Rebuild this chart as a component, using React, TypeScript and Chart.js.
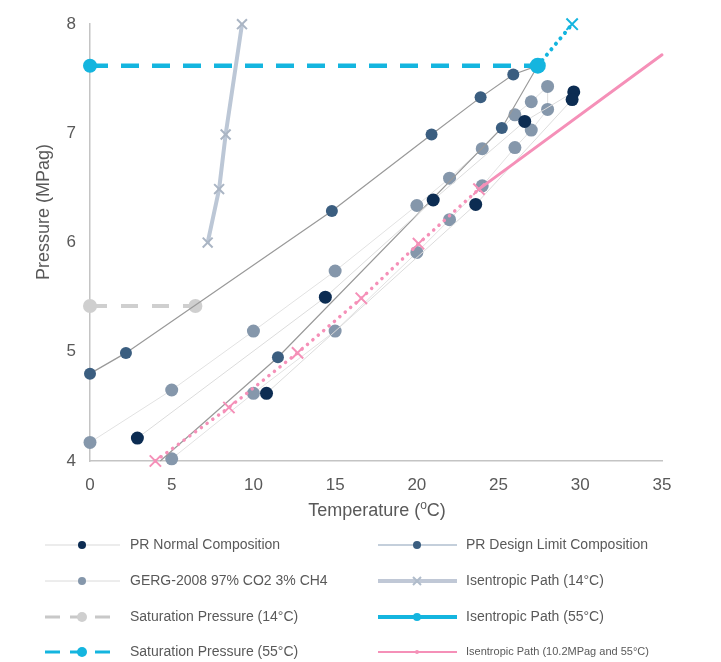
import React, { useEffect, useRef } from "react";
import { Chart, registerables } from "chart.js";

Chart.register(...registerables);

// ---------- data ----------
const xMin = 0;
const xMax = 35;
const xStep = 5;
const yMin = 4;
const yMax = 8;
const yStep = 1;

const prNormalT = [2.9, 14.4, 21.0, 26.6, 29.6, 29.5, 23.6, 10.8];
const prNormalP = [4.21, 5.5, 6.39, 7.11, 7.38, 7.31, 6.35, 4.62];

const designT = [0, 2.2, 14.8, 20.9, 23.9, 25.9, 27.4, 25.2, 11.5, 4.3];
const designP = [4.8, 4.99, 6.29, 6.99, 7.33, 7.54, 7.62, 7.05, 4.95, 4.0];

const gergT = [0, 5, 10, 15, 20, 22, 24, 26, 27, 28, 28, 27, 26, 24, 22, 20, 15, 10, 5];
const gergP = [4.17, 4.65, 5.19, 5.74, 6.34, 6.59, 6.86, 7.17, 7.29, 7.43, 7.22, 7.03, 6.87, 6.52, 6.21, 5.91, 5.19, 4.62, 4.02];

const sat14T = [0, 6.45];
const sat14P = [5.42, 5.42];

const iso14T = [7.2, 7.9, 8.3, 9.3];
const iso14P = [6.0, 6.49, 6.99, 8.0];

const sat55T = [0, 27.4];
const sat55P = [7.62, 7.62];

const iso55T = [27.4, 29.5];
const iso55P = [7.62, 8.0];

const iso102T = [4.0, 8.5, 12.7, 16.6, 20.1, 23.8, 35];
const iso102P = [4.0, 4.49, 4.99, 5.49, 5.99, 6.49, 7.72];

const labels = {
  prNormal: "PR Normal Composition",
  design: "PR Design Limit Composition",
  gerg: "GERG-2008 97% CO2 3% CH4",
  iso14: "Isentropic Path (14°C)",
  sat14: "Saturation Pressure (14°C)",
  iso55: "Isentropic Path (55°C)",
  sat55: "Saturation Pressure (55°C)",
  iso102: "Isentropic Path (10.2MPag and 55°C)",
};

const xTitle = ["Temperature (", "o", "C)"];
const yTitle = "Pressure (MPag)";

// ---------- styles ----------
const C = {
  navy: "#0c2c52",
  design: "#3b5e80",
  gerg: "#8597ab",
  cyan: "#14b5df",
  sat14: "#cfcfcf",
  iso14: "#bcc7d6",
  iso14Mark: "#aab5c4",
  pink: "#f590b8",
  text: "#595959",
  axis: "#c4c4c4",
};
const FONT = '"Liberation Sans", Arial, sans-serif';

const pts = (xs: number[], ys: number[]) => xs.map((x, i) => ({ x, y: ys[i] }));

function drawMarker(ctx: CanvasRenderingContext2D, style: string, x: number, y: number, r: number, color: string) {
  ctx.save();
  if (style === "circle") {
    ctx.fillStyle = color;
    ctx.beginPath();
    ctx.arc(x, y, r, 0, Math.PI * 2);
    ctx.fill();
  } else if (style === "crossRot") {
    ctx.strokeStyle = color;
    ctx.lineWidth = 2;
    ctx.beginPath();
    ctx.moveTo(x - r, y - r);
    ctx.lineTo(x + r, y + r);
    ctx.moveTo(x + r, y - r);
    ctx.lineTo(x - r, y + r);
    ctx.stroke();
  }
  ctx.restore();
}

type LegendItem = {
  label: string;
  col: number;
  row: number;
  line: string;
  lw: number;
  dash: number[];
  marker: string;
  mColor: string;
  mr: number;
  fontSize: number;
};

const legendItems: LegendItem[] = [
  { label: labels.prNormal, col: 0, row: 0, line: "#d9d9d9", lw: 1, dash: [], marker: "circle", mColor: C.navy, mr: 4, fontSize: 14 },
  { label: labels.gerg, col: 0, row: 1, line: "#dadada", lw: 1, dash: [], marker: "circle", mColor: C.gerg, mr: 4, fontSize: 14 },
  { label: labels.sat14, col: 0, row: 2, line: "#c8c8c8", lw: 3, dash: [15, 10], marker: "circle", mColor: C.sat14, mr: 5, fontSize: 14 },
  { label: labels.sat55, col: 0, row: 3, line: C.cyan, lw: 3, dash: [15, 10], marker: "circle", mColor: C.cyan, mr: 5, fontSize: 14 },
  { label: labels.design, col: 1, row: 0, line: "#8aa0b8", lw: 1.2, dash: [], marker: "circle", mColor: C.design, mr: 4, fontSize: 14 },
  { label: labels.iso14, col: 1, row: 1, line: "#c0c8d6", lw: 4, dash: [], marker: "crossRot", mColor: "#b0bccb", mr: 4, fontSize: 14 },
  { label: labels.iso55, col: 1, row: 2, line: C.cyan, lw: 4, dash: [], marker: "circle", mColor: C.cyan, mr: 4, fontSize: 14 },
  { label: labels.iso102, col: 1, row: 3, line: C.pink, lw: 2, dash: [], marker: "circle", mColor: C.pink, mr: 2, fontSize: 11 },
];

const legendRowsY = [545, 581, 617, 652];
const legendCols = [
  { x0: 45, x1: 120, mx: 82, tx: 130 },
  { x0: 378, x1: 457, mx: 417, tx: 466 },
];

const overlayPlugin = {
  id: "overlay",
  afterDraw(chart: any) {
    const ctx: CanvasRenderingContext2D = chart.ctx;
    const area = chart.chartArea;
    ctx.save();
    // legend
    legendItems.forEach((it) => {
      const col = legendCols[it.col];
      const y = legendRowsY[it.row];
      ctx.save();
      ctx.strokeStyle = it.line;
      ctx.lineWidth = it.lw;
      ctx.setLineDash(it.dash);
      ctx.beginPath();
      ctx.moveTo(col.x0, y);
      ctx.lineTo(col.x1, y);
      ctx.stroke();
      ctx.restore();
      drawMarker(ctx, it.marker, col.mx, y, it.mr, it.mColor);
      ctx.fillStyle = C.text;
      ctx.font = `${it.fontSize}px ${FONT}`;
      ctx.textAlign = "left";
      ctx.textBaseline = "middle";
      ctx.fillText(it.label, col.tx, y);
    });

    // x title with raised "o"
    const cx = (area.left + area.right) / 2 + 1;
    const ty = 511;
    ctx.fillStyle = C.text;
    ctx.textBaseline = "middle";
    ctx.textAlign = "left";
    ctx.font = `18px ${FONT}`;
    const w1 = ctx.measureText(xTitle[0]).width;
    const w3 = ctx.measureText(xTitle[2]).width;
    ctx.font = `12px ${FONT}`;
    const w2 = ctx.measureText(xTitle[1]).width;
    const sx = cx - (w1 + w2 + w3) / 2;
    ctx.font = `18px ${FONT}`;
    ctx.fillText(xTitle[0], sx, ty);
    ctx.font = `12px ${FONT}`;
    ctx.fillText(xTitle[1], sx + w1, ty - 5);
    ctx.font = `18px ${FONT}`;
    ctx.fillText(xTitle[2], sx + w1 + w2, ty);

    // y title
    ctx.save();
    ctx.translate(44, 212);
    ctx.rotate(-Math.PI / 2);
    ctx.textAlign = "center";
    ctx.textBaseline = "middle";
    ctx.font = `18px ${FONT}`;
    ctx.fillText(yTitle, 0, 0);
    ctx.restore();
    ctx.restore();
  },
};

export default function App() {
  const ref = useRef<HTMLCanvasElement | null>(null);

  useEffect(() => {
    if (!ref.current) return;
    const dotted = [0.1, 7];
    const chart = new Chart(ref.current, {
      type: "scatter",
      data: {
        datasets: [
          {
            label: labels.sat55,
            data: pts(sat55T, sat55P),
            showLine: true,
            borderColor: C.cyan,
            backgroundColor: C.cyan,
            borderWidth: 4.5,
            borderDash: [18, 13],
            pointStyle: "circle",
            pointRadius: [7, 8],
            pointBorderWidth: 0,
            clip: false,
            order: 0,
          } as any,
          {
            label: labels.iso55,
            data: pts(iso55T, iso55P),
            showLine: true,
            borderColor: C.cyan,
            backgroundColor: C.cyan,
            borderWidth: 4,
            borderDash: dotted,
            borderCapStyle: "round",
            pointStyle: "crossRot",
            pointRadius: [7, 8],
            pointBorderWidth: 2,
            pointBorderColor: C.cyan,
            clip: false,
            order: 1,
          } as any,
          {
            label: labels.iso102,
            data: pts(iso102T, iso102P),
            showLine: true,
            borderColor: C.pink,
            backgroundColor: C.pink,
            borderWidth: 3.5,
            borderCapStyle: "round",
            segment: {
              borderDash: (c: any) => (c.p0DataIndex < 5 ? dotted : []),
              borderWidth: (c: any) => (c.p0DataIndex < 5 ? 3.5 : 3),
            },
            pointStyle: "crossRot",
            pointRadius: [8, 8, 8, 8, 8, 8, 0],
            pointBorderWidth: 2,
            pointBorderColor: C.pink,
            clip: false,
            order: 2,
          } as any,
          {
            label: labels.prNormal,
            data: pts(prNormalT, prNormalP),
            showLine: true,
            borderColor: "#dcdcdc",
            backgroundColor: C.navy,
            borderWidth: 1,
            pointRadius: 6.5,
            pointBorderWidth: 0,
            clip: false,
            order: 3,
          } as any,
          {
            label: labels.design,
            data: pts(designT, designP),
            showLine: true,
            borderColor: "#999999",
            backgroundColor: C.design,
            borderWidth: 1.2,
            pointRadius: [6, 6, 6, 6, 6, 6, 6, 6, 6, 0],
            pointBorderWidth: 0,
            clip: false,
            order: 4,
          } as any,
          {
            label: labels.gerg,
            data: pts(gergT, gergP),
            showLine: true,
            borderColor: "#e2e2e2",
            backgroundColor: C.gerg,
            borderWidth: 1,
            pointRadius: 6.5,
            pointBorderWidth: 0,
            clip: false,
            order: 5,
          } as any,
          {
            label: labels.iso14,
            data: pts(iso14T, iso14P),
            showLine: true,
            borderColor: C.iso14,
            backgroundColor: C.iso14Mark,
            borderWidth: 4,
            pointStyle: "crossRot",
            pointRadius: 7,
            pointBorderWidth: 2,
            pointBorderColor: C.iso14Mark,
            clip: false,
            order: 6,
          } as any,
          {
            label: labels.sat14,
            data: pts(sat14T, sat14P),
            showLine: true,
            borderColor: C.sat14,
            backgroundColor: C.sat14,
            borderWidth: 4,
            borderDash: [17, 14],
            pointRadius: 7,
            pointBorderWidth: 0,
            clip: false,
            order: 7,
          } as any,
        ],
      },
      options: {
        responsive: false,
        animation: false,
        devicePixelRatio: 1,
        layout: { padding: { left: 0, top: 15, right: 59, bottom: 0 } },
        plugins: {
          legend: { display: false },
          tooltip: { enabled: false },
          title: { display: false },
        },
        scales: {
          x: {
            type: "linear",
            min: xMin,
            max: xMax,
            ticks: {
              stepSize: xStep,
              color: C.text,
              font: { family: FONT, size: 17 },
              padding: 14,
              maxRotation: 0,
            },
            grid: { display: false, drawTicks: false },
            border: { display: true, color: C.axis, width: 1.5 },
            afterFit: (s: any) => {
              s.height = 201;
            },
          },
          y: {
            type: "linear",
            min: yMin,
            max: yMax,
            ticks: {
              stepSize: yStep,
              color: C.text,
              font: { family: FONT, size: 17 },
              padding: 14,
            },
            grid: { display: false, drawTicks: false },
            border: { display: true, color: C.axis, width: 1.5 },
            afterFit: (s: any) => {
              s.width = 90;
            },
          },
        },
      } as any,
      plugins: [overlayPlugin],
    });
    return () => chart.destroy();
  }, []);

  return (
    <div style={{ position: "fixed", left: 0, top: 0, width: 721, height: 662, background: "#ffffff" }}>
      <canvas ref={ref} width={721} height={662} style={{ display: "block", width: 721, height: 662 }} />
    </div>
  );
}
